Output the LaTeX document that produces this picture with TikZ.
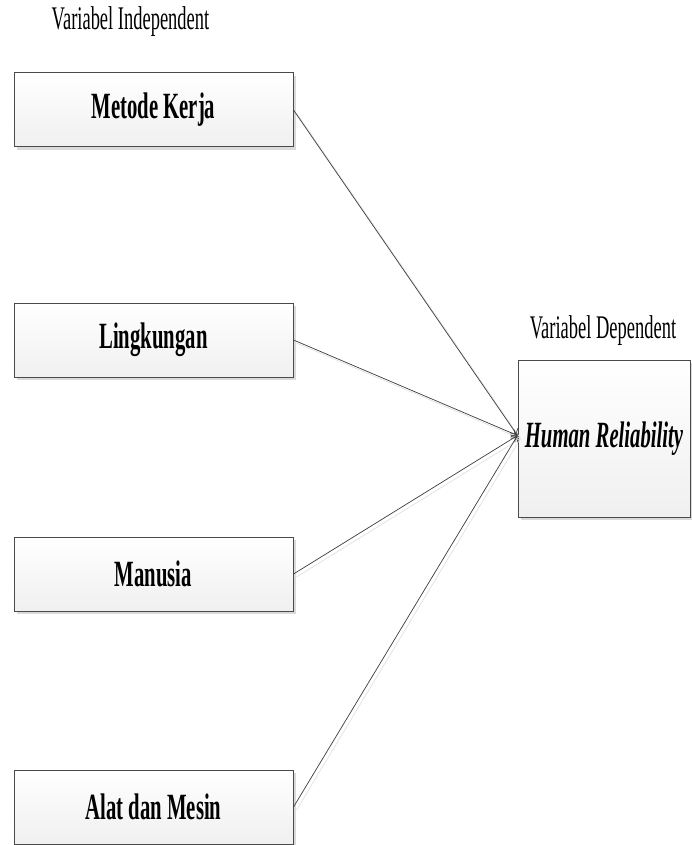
\documentclass[tikz,border=0pt]{standalone}
\usepackage{fontspec}
\setmainfont{Liberation Serif}[FakeStretch=0.56]
\usetikzlibrary{arrows.meta,shadows}
\definecolor{edgegray}{HTML}{4A4A4A}
\definecolor{shadowgray}{HTML}{DADADA}
\definecolor{linegray}{HTML}{3C3C3C}
\tikzset{
  varbox/.style={draw=edgegray, line width=1pt, top color=white, bottom color=black!6,
    inner sep=0pt, minimum width=279pt, minimum height=74pt,
    font=\fontsize{37}{40}\selectfont\bfseries,
    drop shadow={shadow xshift=3pt, shadow yshift=-3pt, fill=shadowgray, opacity=1}},
  depbox/.style={varbox, minimum width=172pt, minimum height=157pt,
    font=\fontsize{37}{40}\selectfont\bfseries\itshape},
  grouplabel/.style={anchor=base, inner sep=0pt, font=\fontsize{33}{36}\selectfont},
  link/.style={draw=linegray, line width=0.7pt, -{To[length=6pt,width=9pt]}},
  linkshadow/.style={draw=black!12, line width=0.7pt}
}
\begin{document}
\begin{tikzpicture}[x=1pt,y=-1pt]
\useasboundingbox (0,0) rectangle (691,845);
\node[grouplabel] (lblind) at (130.5,30) {Variabel Independent};
\node[grouplabel] (lbldep) at (603,338) {Variabel Dependent};
\node[varbox] (mk) at (153.5,110) {Metode Kerja};
\node[varbox] (lk) at (153.5,340) {Lingkungan};
\node[varbox] (mn) at (153.5,574) {Manusia};
\node[varbox] (am) at (153.5,807) {Alat dan Mesin};
\node[depbox] (hr) at (604,438.5) {Human Reliability};
\coordinate (tip) at ([yshift=3pt]hr.west);
\foreach \n in {mk,lk,mn,am}{
  \draw[linkshadow] ([shift={(3pt,-3pt)}]\n.east) -- ([shift={(3pt,-3pt)}]tip);
}
\foreach \n in {mk,lk,mn,am}{
  \draw[link] (\n.east) -- (tip);
}
\end{tikzpicture}
\end{document}
